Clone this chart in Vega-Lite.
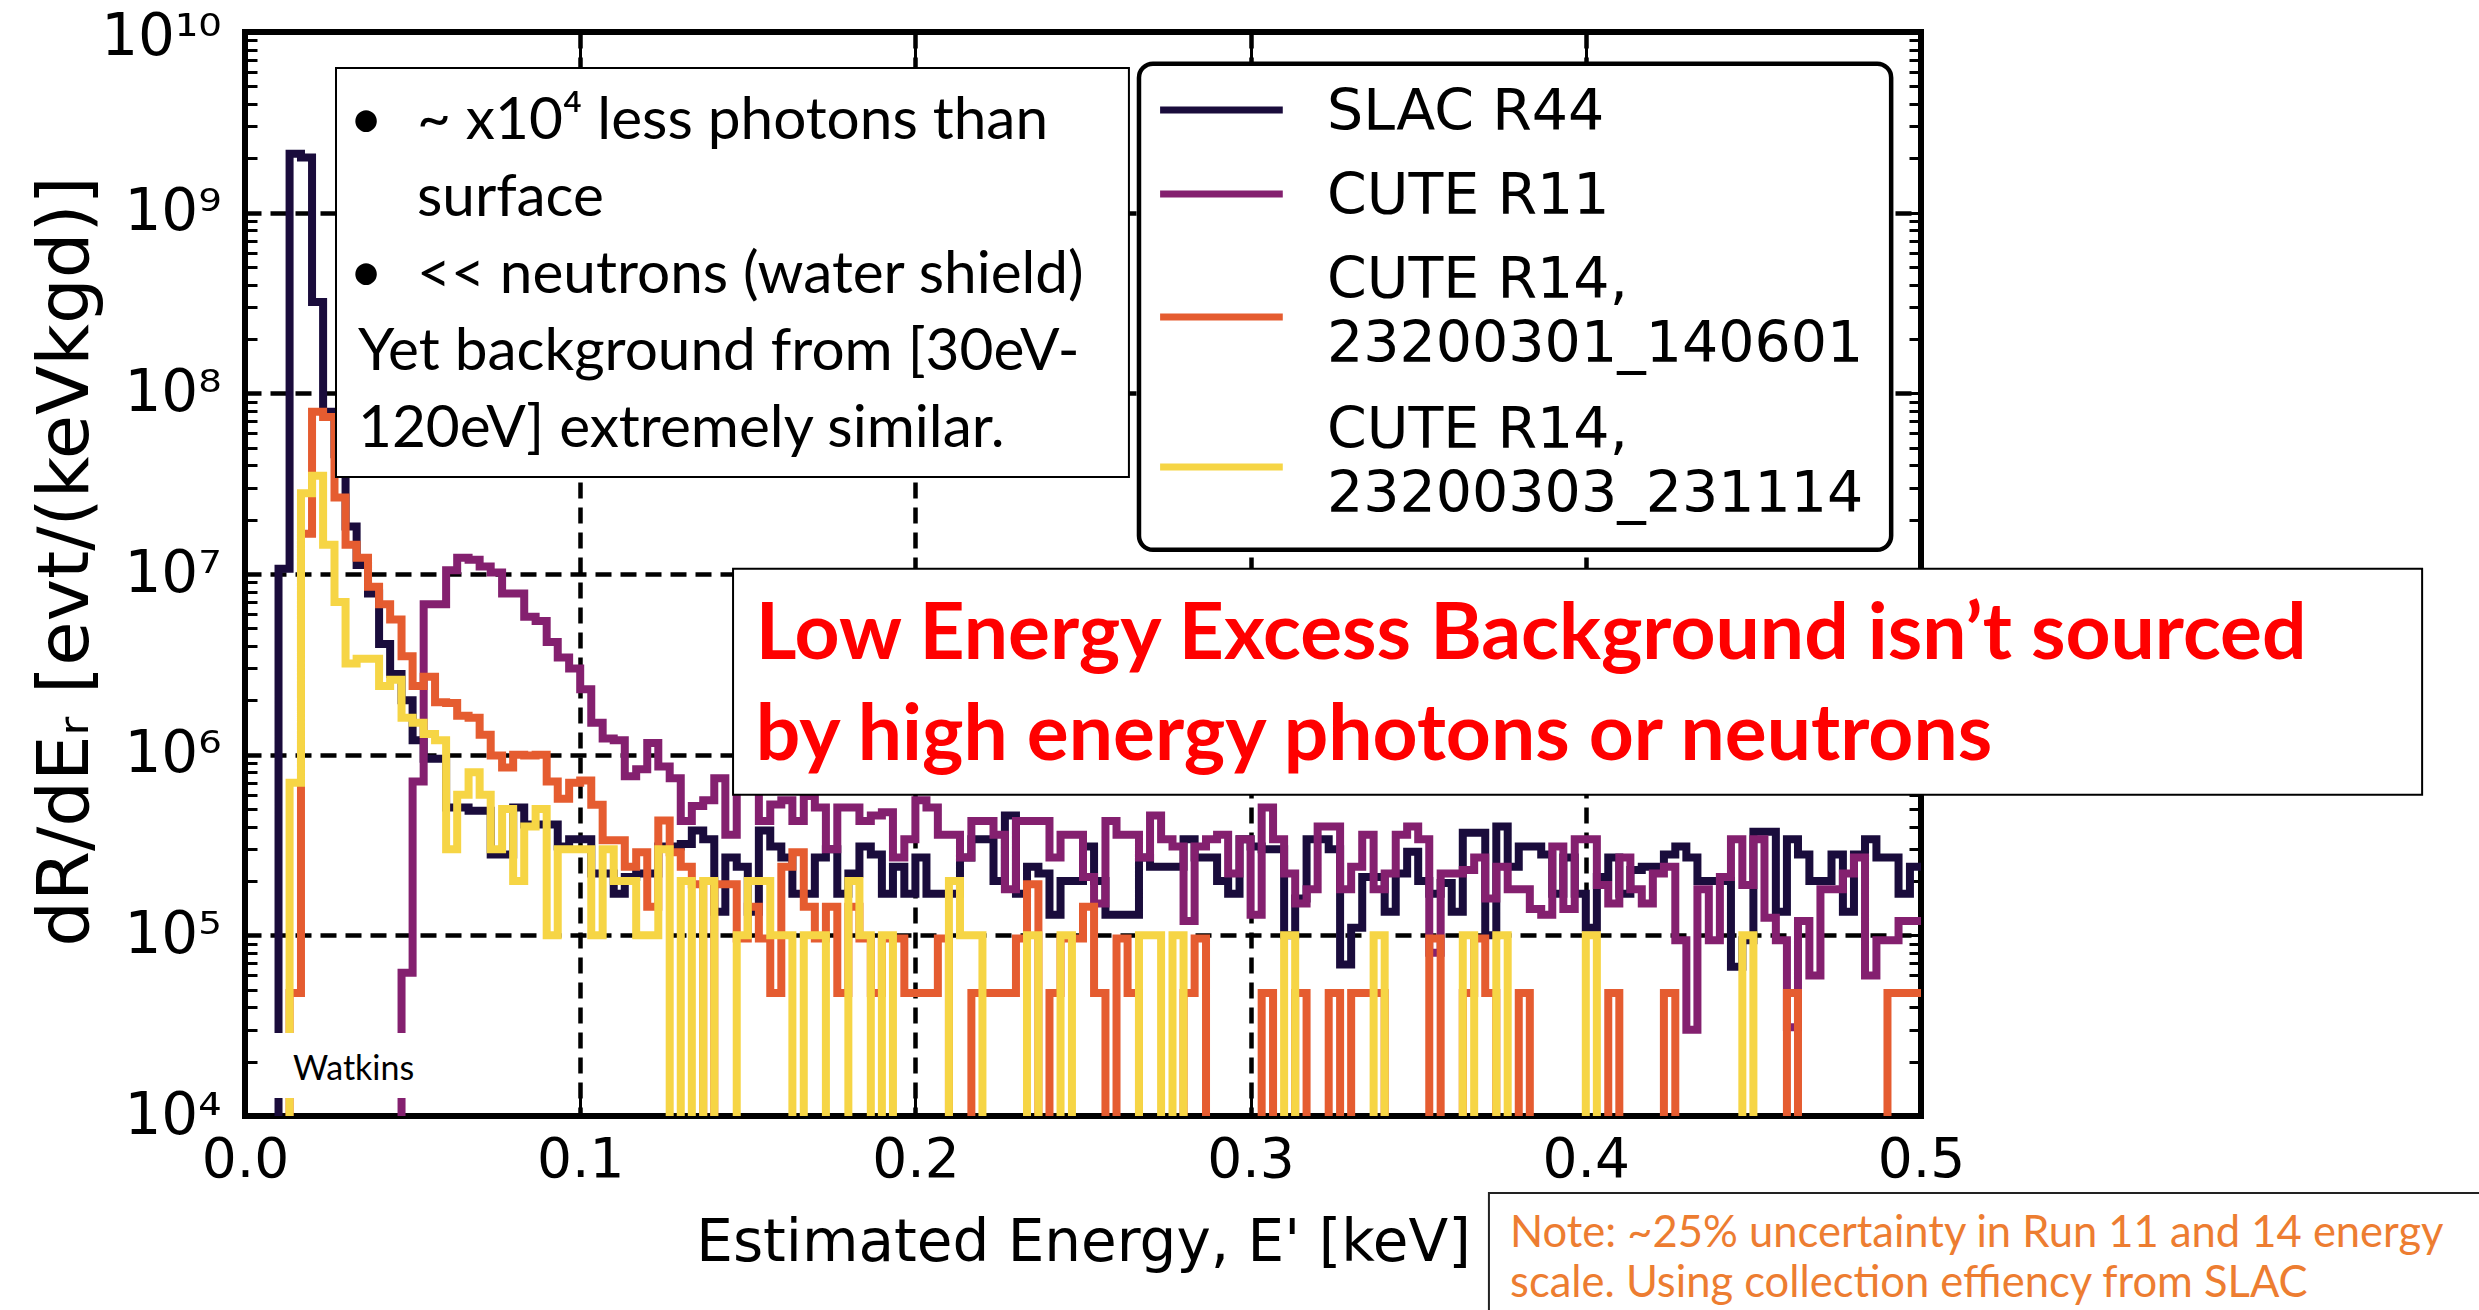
{
  "$schema": "https://vega.github.io/schema/vega-lite/v6.json",
  "width": 1676,
  "height": 1084,
  "autosize": {"type": "none"},
  "padding": {"left": 245, "top": 32, "right": 558, "bottom": 194},
  "background": "white",
  "config": {
    "view": {"stroke": "black", "strokeWidth": 6},
    "axis": {"labelFont": "DejaVu Sans", "titleFont": "DejaVu Sans", "labelColor": "black", "titleColor": "black", "titleFontWeight": "normal", "tickColor": "black", "zindex": 0}
  },
  "datasets": {
    "slac": [
      {"E":0,"r":1},{"E":0.0033,"r":1},{"E":0.0067,"r":1},{"E":0.01,"r":1.07e7},{"E":0.0133,"r":2.12e9},{"E":0.0167,"r":2.02e9},{"E":0.02,"r":3.2e8},{"E":0.0233,"r":7.9e7},{"E":0.0267,"r":4.6e7},{"E":0.03,"r":1.83e7},
      {"E":0.0333,"r":1.12e7},{"E":0.0367,"r":7.8e6},{"E":0.04,"r":4.1e6},{"E":0.0433,"r":2.8e6},{"E":0.0467,"r":2.0e6},{"E":0.05,"r":1.2e6},{"E":0.0533,"r":9.5e5},{"E":0.0567,"r":9.5e5},{"E":0.06,"r":5.1e5},{"E":0.0633,"r":5.1e5},
      {"E":0.0667,"r":4.9e5},{"E":0.07,"r":4.9e5},{"E":0.0733,"r":2.8e5},{"E":0.0767,"r":2.8e5},{"E":0.08,"r":5.1e5},{"E":0.0833,"r":4.1e5},{"E":0.0867,"r":4.1e5},{"E":0.09,"r":4.1e5},{"E":0.0933,"r":3.1e5},{"E":0.0967,"r":3.4e5},
      {"E":0.1,"r":3.4e5},{"E":0.1033,"r":2.2e5},{"E":0.1067,"r":2.2e5},{"E":0.11,"r":1.7e5},{"E":0.1133,"r":2.1e5},{"E":0.1167,"r":2.2e5},{"E":0.12,"r":2.2e5},{"E":0.1233,"r":3.1e5},{"E":0.1267,"r":3.1e5},{"E":0.13,"r":3.2e5},
      {"E":0.1333,"r":3.8e5},{"E":0.1367,"r":3.4e5},{"E":0.14,"r":1.35e5},{"E":0.1433,"r":2.7e5},{"E":0.1467,"r":2.4e5},{"E":0.15,"r":1.35e5},{"E":0.1533,"r":3.8e5},{"E":0.1567,"r":3.1e5},{"E":0.16,"r":2.7e5},{"E":0.1633,"r":1.7e5},
      {"E":0.1667,"r":1.7e5},{"E":0.17,"r":2.7e5},{"E":0.1733,"r":3.0e5},{"E":0.1767,"r":1.7e5},{"E":0.18,"r":2.2e5},{"E":0.1833,"r":3.1e5},{"E":0.1867,"r":2.8e5},{"E":0.19,"r":1.7e5},{"E":0.1933,"r":2.4e5},{"E":0.1967,"r":1.7e5},
      {"E":0.2,"r":2.7e5},{"E":0.2033,"r":1.7e5},{"E":0.2067,"r":1.7e5},{"E":0.21,"r":1.7e5},{"E":0.2133,"r":2.7e5},{"E":0.2167,"r":3.4e5},{"E":0.22,"r":3.4e5},{"E":0.2233,"r":2.0e5},{"E":0.2267,"r":4.6e5},{"E":0.23,"r":1.7e5},
      {"E":0.2333,"r":2.4e5},{"E":0.2367,"r":2.2e5},{"E":0.24,"r":1.3e5},{"E":0.2433,"r":2.0e5},{"E":0.2467,"r":2.0e5},{"E":0.25,"r":3.1e5},{"E":0.2533,"r":2.0e5},{"E":0.2567,"r":1.3e5},{"E":0.26,"r":1.3e5},{"E":0.2633,"r":1.3e5},
      {"E":0.2667,"r":2.7e5},{"E":0.27,"r":2.4e5},{"E":0.2733,"r":2.4e5},{"E":0.2767,"r":2.4e5},{"E":0.28,"r":3.4e5},{"E":0.2833,"r":2.7e5},{"E":0.2867,"r":2.7e5},{"E":0.29,"r":2.0e5},{"E":0.2933,"r":1.7e5},{"E":0.2967,"r":3.4e5},
      {"E":0.3,"r":3.1e5},{"E":0.3033,"r":3.0e5},{"E":0.3067,"r":3.0e5},{"E":0.31,"r":1.0e5},{"E":0.3133,"r":1.6e5},{"E":0.3167,"r":3.4e5},{"E":0.32,"r":3.4e5},{"E":0.3233,"r":3.0e5},{"E":0.3267,"r":6.9e4},{"E":0.33,"r":1.1e5},
      {"E":0.3333,"r":2.1e5},{"E":0.3367,"r":2.1e5},{"E":0.34,"r":1.35e5},{"E":0.3433,"r":2.2e5},{"E":0.3467,"r":2.9e5},{"E":0.35,"r":2.0e5},{"E":0.3533,"r":1.7e5},{"E":0.3567,"r":1.95e5},{"E":0.36,"r":1.35e5},{"E":0.3633,"r":3.7e5},
      {"E":0.3667,"r":3.7e5},{"E":0.37,"r":1.0e5},{"E":0.3733,"r":4.0e5},{"E":0.3767,"r":2.4e5},{"E":0.38,"r":3.1e5},{"E":0.3833,"r":3.1e5},{"E":0.3867,"r":2.8e5},{"E":0.39,"r":1.7e5},{"E":0.3933,"r":2.7e5},{"E":0.3967,"r":1.7e5},
      {"E":0.4,"r":1.1e5},{"E":0.4033,"r":2.1e5},{"E":0.4067,"r":2.7e5},{"E":0.41,"r":1.7e5},{"E":0.4133,"r":2.3e5},{"E":0.4167,"r":2.4e5},{"E":0.42,"r":2.4e5},{"E":0.4233,"r":2.8e5},{"E":0.4267,"r":3.1e5},{"E":0.43,"r":2.7e5},
      {"E":0.4333,"r":2.0e5},{"E":0.4367,"r":2.0e5},{"E":0.44,"r":2.0e5},{"E":0.4433,"r":6.7e4},{"E":0.4467,"r":9.4e4},{"E":0.45,"r":3.75e5},{"E":0.4533,"r":3.75e5},{"E":0.4567,"r":1.35e5},{"E":0.46,"r":3.4e5},{"E":0.4633,"r":2.8e5},
      {"E":0.4667,"r":2.0e5},{"E":0.47,"r":2.0e5},{"E":0.4733,"r":2.8e5},{"E":0.4767,"r":1.35e5},{"E":0.48,"r":2.8e5},{"E":0.4833,"r":3.4e5},{"E":0.4867,"r":2.7e5},{"E":0.49,"r":2.7e5},{"E":0.4933,"r":1.7e5},{"E":0.4967,"r":2.4e5},
      {"E":0.5,"r":2.4e5}
    ],
    "r11": [
      {"E":0,"r":1},{"E":0.0033,"r":1},{"E":0.0067,"r":1},{"E":0.01,"r":1},{"E":0.0133,"r":1},{"E":0.0167,"r":1},{"E":0.02,"r":1},{"E":0.0233,"r":1},{"E":0.0267,"r":1},{"E":0.03,"r":1},
      {"E":0.0333,"r":1},{"E":0.0367,"r":1},{"E":0.04,"r":1},{"E":0.0433,"r":1},{"E":0.0467,"r":6.2e4},{"E":0.05,"r":7.1e5},{"E":0.0533,"r":6.8e6},{"E":0.0567,"r":6.8e6},{"E":0.06,"r":1.05e7},{"E":0.0633,"r":1.23e7},
      {"E":0.0667,"r":1.2e7},{"E":0.07,"r":1.1e7},{"E":0.0733,"r":1.02e7},{"E":0.0767,"r":7.8e6},{"E":0.08,"r":7.8e6},{"E":0.0833,"r":5.8e6},{"E":0.0867,"r":5.5e6},{"E":0.09,"r":4.2e6},{"E":0.0933,"r":3.45e6},{"E":0.0967,"r":3.0e6},
      {"E":0.1,"r":2.3e6},{"E":0.1033,"r":1.5e6},{"E":0.1067,"r":1.23e6},{"E":0.11,"r":1.2e6},{"E":0.1133,"r":7.6e5},{"E":0.1167,"r":8.3e5},{"E":0.12,"r":1.16e6},{"E":0.1233,"r":8.6e5},{"E":0.1267,"r":7.4e5},{"E":0.13,"r":4.3e5},
      {"E":0.1333,"r":5.2e5},{"E":0.1367,"r":5.6e5},{"E":0.14,"r":7.4e5},{"E":0.1433,"r":3.6e5},{"E":0.1467,"r":7.0e5},{"E":0.15,"r":7.5e5},{"E":0.1533,"r":4.3e5},{"E":0.1567,"r":5.3e5},{"E":0.16,"r":5.6e5},{"E":0.1633,"r":4.3e5},
      {"E":0.1667,"r":5.9e5},{"E":0.17,"r":5.1e5},{"E":0.1733,"r":3.0e5},{"E":0.1767,"r":5.1e5},{"E":0.18,"r":5.1e5},{"E":0.1833,"r":4.3e5},{"E":0.1867,"r":4.6e5},{"E":0.19,"r":4.8e5},{"E":0.1933,"r":2.7e5},{"E":0.1967,"r":3.4e5},
      {"E":0.2,"r":5.6e5},{"E":0.2033,"r":5.1e5},{"E":0.2067,"r":3.6e5},{"E":0.21,"r":3.6e5},{"E":0.2133,"r":2.7e5},{"E":0.2167,"r":4.3e5},{"E":0.22,"r":4.3e5},{"E":0.2233,"r":3.6e5},{"E":0.2267,"r":1.8e5},{"E":0.23,"r":4.3e5},
      {"E":0.2333,"r":4.3e5},{"E":0.2367,"r":4.3e5},{"E":0.24,"r":2.7e5},{"E":0.2433,"r":3.6e5},{"E":0.2467,"r":3.6e5},{"E":0.25,"r":2.1e5},{"E":0.2533,"r":1.5e5},{"E":0.2567,"r":4.3e5},{"E":0.26,"r":3.6e5},{"E":0.2633,"r":3.6e5},
      {"E":0.2667,"r":2.7e5},{"E":0.27,"r":4.6e5},{"E":0.2733,"r":3.4e5},{"E":0.2767,"r":3.1e5},{"E":0.28,"r":1.2e5},{"E":0.2833,"r":3.1e5},{"E":0.2867,"r":3.4e5},{"E":0.29,"r":3.6e5},{"E":0.2933,"r":2.2e5},{"E":0.2967,"r":3.4e5},
      {"E":0.3,"r":1.3e5},{"E":0.3033,"r":5.1e5},{"E":0.3067,"r":3.4e5},{"E":0.31,"r":2.2e5},{"E":0.3133,"r":1.5e5},{"E":0.3167,"r":1.8e5},{"E":0.32,"r":4.0e5},{"E":0.3233,"r":4.0e5},{"E":0.3267,"r":1.8e5},{"E":0.33,"r":2.4e5},
      {"E":0.3333,"r":3.6e5},{"E":0.3367,"r":1.8e5},{"E":0.34,"r":2.2e5},{"E":0.3433,"r":3.6e5},{"E":0.3467,"r":4.0e5},{"E":0.35,"r":3.4e5},{"E":0.3533,"r":8.0e4},{"E":0.3567,"r":2.2e5},{"E":0.36,"r":2.2e5},{"E":0.3633,"r":2.3e5},
      {"E":0.3667,"r":2.7e5},{"E":0.37,"r":1.6e5},{"E":0.3733,"r":2.4e5},{"E":0.3767,"r":1.8e5},{"E":0.38,"r":1.8e5},{"E":0.3833,"r":1.4e5},{"E":0.3867,"r":1.3e5},{"E":0.39,"r":3.1e5},{"E":0.3933,"r":1.4e5},{"E":0.3967,"r":3.4e5},
      {"E":0.4,"r":3.4e5},{"E":0.4033,"r":1.9e5},{"E":0.4067,"r":1.5e5},{"E":0.41,"r":2.7e5},{"E":0.4133,"r":1.8e5},{"E":0.4167,"r":1.5e5},{"E":0.42,"r":2.2e5},{"E":0.4233,"r":2.4e5},{"E":0.4267,"r":9.4e4},{"E":0.43,"r":3.0e4},
      {"E":0.4333,"r":1.8e5},{"E":0.4367,"r":9.4e4},{"E":0.44,"r":2.1e5},{"E":0.4433,"r":3.4e5},{"E":0.4467,"r":1.9e5},{"E":0.45,"r":3.4e5},{"E":0.4533,"r":1.25e5},{"E":0.4567,"r":9.4e4},{"E":0.46,"r":3.1e4},{"E":0.4633,"r":1.2e5},
      {"E":0.4667,"r":6.0e4},{"E":0.47,"r":1.8e5},{"E":0.4733,"r":1.8e5},{"E":0.4767,"r":2.2e5},{"E":0.48,"r":2.7e5},{"E":0.4833,"r":6.0e4},{"E":0.4867,"r":9.4e4},{"E":0.49,"r":9.4e4},{"E":0.4933,"r":1.2e5},{"E":0.4967,"r":1.2e5},
      {"E":0.5,"r":1.2e5}
    ],
    "r14a": [
      {"E":0,"r":1},{"E":0.0033,"r":1},{"E":0.0067,"r":1},{"E":0.01,"r":1},{"E":0.0133,"r":4.8e4},{"E":0.0167,"r":1.67e7},{"E":0.02,"r":7.9e7},{"E":0.0233,"r":7.4e7},{"E":0.0267,"r":2.65e7},{"E":0.03,"r":1.45e7},
      {"E":0.0333,"r":1.23e7},{"E":0.0367,"r":8.5e6},{"E":0.04,"r":6.8e6},{"E":0.0433,"r":5.6e6},{"E":0.0467,"r":3.5e6},{"E":0.05,"r":2.4e6},{"E":0.0533,"r":2.7e6},{"E":0.0567,"r":1.95e6},{"E":0.06,"r":1.93e6},{"E":0.0633,"r":1.64e6},
      {"E":0.0667,"r":1.6e6},{"E":0.07,"r":1.29e6},{"E":0.0733,"r":9.9e5},{"E":0.0767,"r":8.5e5},{"E":0.08,"r":1.0e6},{"E":0.0833,"r":9.9e5},{"E":0.0867,"r":1.0e6},{"E":0.09,"r":7.1e5},{"E":0.0933,"r":5.7e5},{"E":0.0967,"r":7.0e5},
      {"E":0.1,"r":7.2e5},{"E":0.1033,"r":5.28e5},{"E":0.1067,"r":3.36e5},{"E":0.11,"r":3.36e5},{"E":0.1133,"r":2.4e5},{"E":0.1167,"r":2.88e5},{"E":0.12,"r":1.44e5},{"E":0.1233,"r":4.32e5},{"E":0.1267,"r":2.88e5},{"E":0.13,"r":2.4e5},
      {"E":0.1333,"r":1.92e5},{"E":0.1367,"r":1},{"E":0.14,"r":1.92e5},{"E":0.1433,"r":1.92e5},{"E":0.1467,"r":9.6e4},{"E":0.15,"r":1.44e5},{"E":0.1533,"r":9.6e4},{"E":0.1567,"r":4.8e4},{"E":0.16,"r":2.4e5},{"E":0.1633,"r":2.88e5},
      {"E":0.1667,"r":1.44e5},{"E":0.17,"r":9.6e4},{"E":0.1733,"r":1.44e5},{"E":0.1767,"r":4.8e4},{"E":0.18,"r":1.44e5},{"E":0.1833,"r":9.6e4},{"E":0.1867,"r":4.8e4},{"E":0.19,"r":9.6e4},{"E":0.1933,"r":9.6e4},{"E":0.1967,"r":4.8e4},
      {"E":0.2,"r":4.8e4},{"E":0.2033,"r":4.8e4},{"E":0.2067,"r":9.6e4},{"E":0.21,"r":1},{"E":0.2133,"r":1},{"E":0.2167,"r":4.8e4},{"E":0.22,"r":4.8e4},{"E":0.2233,"r":4.8e4},{"E":0.2267,"r":4.8e4},{"E":0.23,"r":9.6e4},
      {"E":0.2333,"r":1.92e5},{"E":0.2367,"r":1},{"E":0.24,"r":4.8e4},{"E":0.2433,"r":9.6e4},{"E":0.2467,"r":9.6e4},{"E":0.25,"r":1.44e5},{"E":0.2533,"r":4.8e4},{"E":0.2567,"r":1},{"E":0.26,"r":9.6e4},{"E":0.2633,"r":4.8e4},
      {"E":0.2667,"r":1},{"E":0.27,"r":1},{"E":0.2733,"r":1},{"E":0.2767,"r":1},{"E":0.28,"r":4.8e4},{"E":0.2833,"r":9.6e4},{"E":0.2867,"r":1},{"E":0.29,"r":1},{"E":0.2933,"r":1},{"E":0.2967,"r":1},
      {"E":0.3,"r":1},{"E":0.3033,"r":4.8e4},{"E":0.3067,"r":1},{"E":0.31,"r":1},{"E":0.3133,"r":4.8e4},{"E":0.3167,"r":1},{"E":0.32,"r":1},{"E":0.3233,"r":4.8e4},{"E":0.3267,"r":1},{"E":0.33,"r":4.8e4},
      {"E":0.3333,"r":4.8e4},{"E":0.3367,"r":4.8e4},{"E":0.34,"r":1},{"E":0.3433,"r":1},{"E":0.3467,"r":1},{"E":0.35,"r":1},{"E":0.3533,"r":9.6e4},{"E":0.3567,"r":1},{"E":0.36,"r":1},{"E":0.3633,"r":4.8e4},
      {"E":0.3667,"r":9.6e4},{"E":0.37,"r":4.8e4},{"E":0.3733,"r":1},{"E":0.3767,"r":1},{"E":0.38,"r":4.8e4},{"E":0.3833,"r":1},{"E":0.3867,"r":1},{"E":0.39,"r":1},{"E":0.3933,"r":1},{"E":0.3967,"r":1},
      {"E":0.4,"r":1},{"E":0.4033,"r":1},{"E":0.4067,"r":4.8e4},{"E":0.41,"r":1},{"E":0.4133,"r":1},{"E":0.4167,"r":1},{"E":0.42,"r":1},{"E":0.4233,"r":4.8e4},{"E":0.4267,"r":1},{"E":0.43,"r":1},
      {"E":0.4333,"r":1},{"E":0.4367,"r":1},{"E":0.44,"r":1},{"E":0.4433,"r":1},{"E":0.4467,"r":1},{"E":0.45,"r":1},{"E":0.4533,"r":1},{"E":0.4567,"r":1},{"E":0.46,"r":4.8e4},{"E":0.4633,"r":1},
      {"E":0.4667,"r":1},{"E":0.47,"r":1},{"E":0.4733,"r":1},{"E":0.4767,"r":1},{"E":0.48,"r":1},{"E":0.4833,"r":1},{"E":0.4867,"r":1},{"E":0.49,"r":4.8e4},{"E":0.4933,"r":4.8e4},{"E":0.4967,"r":4.8e4},
      {"E":0.5,"r":4.8e4}
    ],
    "r14b": [
      {"E":0,"r":1},{"E":0.0033,"r":1},{"E":0.0067,"r":1},{"E":0.01,"r":1},{"E":0.0133,"r":7e5},{"E":0.0167,"r":2.8e7},{"E":0.02,"r":3.5e7},{"E":0.0233,"r":1.45e7},{"E":0.0267,"r":7.0e6},{"E":0.03,"r":3.2e6},
      {"E":0.0333,"r":3.4e6},{"E":0.0367,"r":3.4e6},{"E":0.04,"r":2.4e6},{"E":0.0433,"r":2.6e6},{"E":0.0467,"r":1.6e6},{"E":0.05,"r":1.5e6},{"E":0.0533,"r":1.3e6},{"E":0.0567,"r":1.2e6},{"E":0.06,"r":3e5},{"E":0.0633,"r":6e5},
      {"E":0.0667,"r":8e5},{"E":0.07,"r":6e5},{"E":0.0733,"r":3e5},{"E":0.0767,"r":5e5},{"E":0.08,"r":2e5},{"E":0.0833,"r":4e5},{"E":0.0867,"r":5e5},{"E":0.09,"r":1e5},{"E":0.0933,"r":3e5},{"E":0.0967,"r":3e5},
      {"E":0.1,"r":3e5},{"E":0.1033,"r":1e5},{"E":0.1067,"r":3e5},{"E":0.11,"r":2e5},{"E":0.1133,"r":2e5},{"E":0.1167,"r":1e5},{"E":0.12,"r":1e5},{"E":0.1233,"r":3e5},{"E":0.1267,"r":1},{"E":0.13,"r":2e5},
      {"E":0.1333,"r":1},{"E":0.1367,"r":2e5},{"E":0.14,"r":1},{"E":0.1433,"r":1},{"E":0.1467,"r":1e5},{"E":0.15,"r":2e5},{"E":0.1533,"r":2e5},{"E":0.1567,"r":1e5},{"E":0.16,"r":1e5},{"E":0.1633,"r":1},
      {"E":0.1667,"r":1e5},{"E":0.17,"r":1e5},{"E":0.1733,"r":1},{"E":0.1767,"r":1},{"E":0.18,"r":2e5},{"E":0.1833,"r":1e5},{"E":0.1867,"r":1},{"E":0.19,"r":1e5},{"E":0.1933,"r":1},{"E":0.1967,"r":1},
      {"E":0.2,"r":1},{"E":0.2033,"r":1},{"E":0.2067,"r":1},{"E":0.21,"r":2e5},{"E":0.2133,"r":1e5},{"E":0.2167,"r":1e5},{"E":0.22,"r":1},{"E":0.2233,"r":1},{"E":0.2267,"r":1},{"E":0.23,"r":1},
      {"E":0.2333,"r":1e5},{"E":0.2367,"r":1},{"E":0.24,"r":1},{"E":0.2433,"r":1e5},{"E":0.2467,"r":1},{"E":0.25,"r":1},{"E":0.2533,"r":1},{"E":0.2567,"r":1},{"E":0.26,"r":1},{"E":0.2633,"r":1},
      {"E":0.2667,"r":1e5},{"E":0.27,"r":1e5},{"E":0.2733,"r":1},{"E":0.2767,"r":1e5},{"E":0.28,"r":1},{"E":0.2833,"r":1},{"E":0.2867,"r":1},{"E":0.29,"r":1},{"E":0.2933,"r":1},{"E":0.2967,"r":1},
      {"E":0.3,"r":1},{"E":0.3033,"r":1},{"E":0.3067,"r":1},{"E":0.31,"r":1e5},{"E":0.3133,"r":1},{"E":0.3167,"r":1},{"E":0.32,"r":1},{"E":0.3233,"r":1},{"E":0.3267,"r":1},{"E":0.33,"r":1},
      {"E":0.3333,"r":1},{"E":0.3367,"r":1e5},{"E":0.34,"r":1},{"E":0.3433,"r":1},{"E":0.3467,"r":1},{"E":0.35,"r":1},{"E":0.3533,"r":1},{"E":0.3567,"r":1},{"E":0.36,"r":1},{"E":0.3633,"r":1e5},
      {"E":0.3667,"r":1},{"E":0.37,"r":1},{"E":0.3733,"r":1e5},{"E":0.3767,"r":1},{"E":0.38,"r":1},{"E":0.3833,"r":1},{"E":0.3867,"r":1},{"E":0.39,"r":1},{"E":0.3933,"r":1},{"E":0.3967,"r":1},
      {"E":0.4,"r":1e5},{"E":0.4033,"r":1},{"E":0.4067,"r":1},{"E":0.41,"r":1},{"E":0.4133,"r":1},{"E":0.4167,"r":1},{"E":0.42,"r":1},{"E":0.4233,"r":1},{"E":0.4267,"r":1},{"E":0.43,"r":1},
      {"E":0.4333,"r":1},{"E":0.4367,"r":1},{"E":0.44,"r":1},{"E":0.4433,"r":1},{"E":0.4467,"r":1e5},{"E":0.45,"r":1},{"E":0.4533,"r":1},{"E":0.4567,"r":1},{"E":0.46,"r":1},{"E":0.4633,"r":1},
      {"E":0.4667,"r":1},{"E":0.47,"r":1},{"E":0.4733,"r":1},{"E":0.4767,"r":1},{"E":0.48,"r":1},{"E":0.4833,"r":1},{"E":0.4867,"r":1},{"E":0.49,"r":1},{"E":0.4933,"r":1},{"E":0.4967,"r":1},
      {"E":0.5,"r":1}
    ]
  },
  "layer": [
    {
      "encoding": {
        "x": {
          "field": "E", "type": "quantitative",
          "scale": {"domain": [0, 0.5], "nice": false, "zero": false},
          "axis": {
            "orient": "bottom", "values": [0, 0.1, 0.2, 0.3, 0.4, 0.5], "format": ".1f",
            "labelFlush": false, "labelOverlap": false, "labelFontSize": 55, "labelPadding": 47,
            "tickSize": -30, "tickWidth": 3, "domain": false,
            "grid": true, "gridColor": "black", "gridDash": [16, 9], "gridWidth": 4.5,
            "title": "Estimated Energy, E' [keV]", "titleFontSize": 58,
            "titleX": 838, "titleY": 144, "titleAlign": "center", "titleBaseline": "alphabetic"
          }
        },
        "y": {
          "field": "r", "type": "quantitative",
          "scale": {"type": "log", "domain": [10000, 10000000000], "nice": false},
          "axis": {
            "orient": "left",
            "values": [10000, 20000, 30000, 40000, 50000, 60000, 70000, 80000, 90000, 100000, 200000, 300000, 400000, 500000, 600000, 700000, 800000, 900000, 1000000, 2000000, 3000000, 4000000, 5000000, 6000000, 7000000, 8000000, 9000000, 10000000, 20000000, 30000000, 40000000, 50000000, 60000000, 70000000, 80000000, 90000000, 100000000, 200000000, 300000000, 400000000, 500000000, 600000000, 700000000, 800000000, 900000000, 1000000000, 2000000000, 3000000000, 4000000000, 5000000000, 6000000000, 7000000000, 8000000000, 9000000000, 10000000000],
            "labelExpr": "datum.value == 10000 ? '10⁴' : datum.value == 100000 ? '10⁵' : datum.value == 1000000 ? '10⁶' : datum.value == 10000000 ? '10⁷' : datum.value == 100000000 ? '10⁸' : datum.value == 1000000000 ? '10⁹' : datum.value == 10000000000 ? '10¹⁰' : ''",
            "labelOverlap": false, "labelFontSize": 58, "labelPadding": 36,
            "labelOffset": {"condition": {"test": "datum.value == 10000000000", "value": 5}, "value": 0},
            "tickSize": -12, "tickWidth": 3, "domain": false,
            "grid": true, "gridColor": "black", "gridDash": [16, 9], "gridWidth": 4.5,
            "gridOpacity": {"condition": {"test": "indexof([10000,100000,1000000,10000000,100000000,1000000000,10000000000], datum.value) >= 0", "value": 1}, "value": 0},
            "title": "dR/dEᵣ [evt/(keVkgd)]", "titleFontSize": 72,
            "titleX": -180, "titleY": 529, "titleAlign": "center", "titleBaseline": "middle", "titleAngle": 270
          }
        }
      },
      "layer": [
        {"data": {"name": "slac"}, "mark": {"type": "line", "interpolate": "step-after", "clip": true, "color": "#1a0c3c", "strokeWidth": 8}},
        {"data": {"name": "r11"}, "mark": {"type": "line", "interpolate": "step-after", "clip": true, "color": "#84206f", "strokeWidth": 8}},
        {"data": {"name": "r14a"}, "mark": {"type": "line", "interpolate": "step-after", "clip": true, "color": "#e55c30", "strokeWidth": 8}},
        {"data": {"name": "r14b"}, "mark": {"type": "line", "interpolate": "step-after", "clip": true, "color": "#f6d545", "strokeWidth": 8}}
      ]
    },
    {
      "data": {"values": [{}]},
      "layer": [
        {
          "mark": {"type": "rect", "fill": "white", "strokeWidth": 0},
          "encoding": {
            "x": {"datum": 0.006, "type": "quantitative", "scale": {"domain": [0, 0.5], "nice": false, "zero": false}, "axis": null},
            "x2": {"datum": 0.053},
            "y": {"datum": 28800, "type": "quantitative", "scale": {"type": "log", "domain": [10000, 10000000000], "nice": false}, "axis": null},
            "y2": {"datum": 12560}
          }
        },
        {
          "mark": {"type": "text", "text": "Watkins", "font": "Lato", "fontSize": 34, "align": "left", "baseline": "alphabetic", "color": "black"},
          "encoding": {
            "x": {"datum": 0.0143, "type": "quantitative", "scale": {"domain": [0, 0.5], "nice": false, "zero": false}, "axis": null},
            "y": {"datum": 15850, "type": "quantitative", "scale": {"type": "log", "domain": [10000, 10000000000], "nice": false}, "axis": null}
          }
        },
        {
          "mark": {"type": "rect", "fill": "white", "stroke": "black", "strokeWidth": 2},
          "encoding": {
            "x": {"datum": 0.02715, "type": "quantitative", "scale": {"domain": [0, 0.5], "nice": false, "zero": false}, "axis": null},
            "x2": {"datum": 0.2637},
            "y": {"datum": 6320000000, "type": "quantitative", "scale": {"type": "log", "domain": [10000, 10000000000], "nice": false}, "axis": null},
            "y2": {"datum": 34400000}
          }
        },
        {
          "mark": {"type": "text", "text": "•", "font": "Lato", "fontSize": 58, "align": "center", "baseline": "alphabetic", "color": "black"},
          "encoding": {
            "x": {"datum": 0.0361, "type": "quantitative", "scale": {"domain": [0, 0.5], "nice": false, "zero": false}, "axis": null},
            "y": {"datum": 2557000000, "type": "quantitative", "scale": {"type": "log", "domain": [10000, 10000000000], "nice": false}, "axis": null}
          }
        },
        {
          "mark": {"type": "text", "text": "•", "font": "Lato", "fontSize": 58, "align": "center", "baseline": "alphabetic", "color": "black"},
          "encoding": {
            "x": {"datum": 0.0361, "type": "quantitative", "scale": {"domain": [0, 0.5], "nice": false, "zero": false}, "axis": null},
            "y": {"datum": 364000000, "type": "quantitative", "scale": {"type": "log", "domain": [10000, 10000000000], "nice": false}, "axis": null}
          }
        },
        {
          "mark": {"type": "text", "text": ["~ x10⁴ less photons than", "surface", "<< neutrons (water shield)"], "font": "Lato", "fontSize": 58.5, "lineHeight": 77, "align": "left", "baseline": "alphabetic", "color": "black"},
          "encoding": {
            "x": {"datum": 0.0513, "type": "quantitative", "scale": {"domain": [0, 0.5], "nice": false, "zero": false}, "axis": null},
            "y": {"datum": 2557000000, "type": "quantitative", "scale": {"type": "log", "domain": [10000, 10000000000], "nice": false}, "axis": null}
          }
        },
        {
          "mark": {"type": "text", "text": ["Yet background from [30eV-", "120eV] extremely similar."], "font": "Lato", "fontSize": 58.5, "lineHeight": 77, "align": "left", "baseline": "alphabetic", "color": "black"},
          "encoding": {
            "x": {"datum": 0.0337, "type": "quantitative", "scale": {"domain": [0, 0.5], "nice": false, "zero": false}, "axis": null},
            "y": {"datum": 134500000, "type": "quantitative", "scale": {"type": "log", "domain": [10000, 10000000000], "nice": false}, "axis": null}
          }
        },
        {
          "mark": {"type": "rect", "fill": "white", "stroke": "black", "strokeWidth": 4.5, "cornerRadius": 14},
          "encoding": {
            "x": {"datum": 0.2667, "type": "quantitative", "scale": {"domain": [0, 0.5], "nice": false, "zero": false}, "axis": null},
            "x2": {"datum": 0.4911},
            "y": {"datum": 6680000000, "type": "quantitative", "scale": {"type": "log", "domain": [10000, 10000000000], "nice": false}, "axis": null},
            "y2": {"datum": 13600000}
          }
        },
        {
          "mark": {"type": "rule", "color": "#1a0c3c", "strokeWidth": 7},
          "encoding": {
            "x": {"datum": 0.273, "type": "quantitative", "scale": {"domain": [0, 0.5], "nice": false, "zero": false}, "axis": null},
            "x2": {"datum": 0.3096},
            "y": {"datum": 3701000000, "type": "quantitative", "scale": {"type": "log", "domain": [10000, 10000000000], "nice": false}, "axis": null}
          }
        },
        {
          "mark": {"type": "rule", "color": "#84206f", "strokeWidth": 7},
          "encoding": {
            "x": {"datum": 0.273, "type": "quantitative", "scale": {"domain": [0, 0.5], "nice": false, "zero": false}, "axis": null},
            "x2": {"datum": 0.3096},
            "y": {"datum": 1269000000, "type": "quantitative", "scale": {"type": "log", "domain": [10000, 10000000000], "nice": false}, "axis": null}
          }
        },
        {
          "mark": {"type": "rule", "color": "#e55c30", "strokeWidth": 7},
          "encoding": {
            "x": {"datum": 0.273, "type": "quantitative", "scale": {"domain": [0, 0.5], "nice": false, "zero": false}, "axis": null},
            "x2": {"datum": 0.3096},
            "y": {"datum": 264600000, "type": "quantitative", "scale": {"type": "log", "domain": [10000, 10000000000], "nice": false}, "axis": null}
          }
        },
        {
          "mark": {"type": "rule", "color": "#f6d545", "strokeWidth": 7},
          "encoding": {
            "x": {"datum": 0.273, "type": "quantitative", "scale": {"domain": [0, 0.5], "nice": false, "zero": false}, "axis": null},
            "x2": {"datum": 0.3096},
            "y": {"datum": 39120000, "type": "quantitative", "scale": {"type": "log", "domain": [10000, 10000000000], "nice": false}, "axis": null}
          }
        },
        {
          "mark": {"type": "text", "text": "SLAC R44", "font": "DejaVu Sans", "fontSize": 57, "align": "left", "baseline": "alphabetic", "color": "black"},
          "encoding": {
            "x": {"datum": 0.3228, "type": "quantitative", "scale": {"domain": [0, 0.5], "nice": false, "zero": false}, "axis": null},
            "y": {"datum": 2868000000, "type": "quantitative", "scale": {"type": "log", "domain": [10000, 10000000000], "nice": false}, "axis": null}
          }
        },
        {
          "mark": {"type": "text", "text": "CUTE R11", "font": "DejaVu Sans", "fontSize": 57, "align": "left", "baseline": "alphabetic", "color": "black"},
          "encoding": {
            "x": {"datum": 0.3228, "type": "quantitative", "scale": {"domain": [0, 0.5], "nice": false, "zero": false}, "axis": null},
            "y": {"datum": 983000000, "type": "quantitative", "scale": {"type": "log", "domain": [10000, 10000000000], "nice": false}, "axis": null}
          }
        },
        {
          "mark": {"type": "text", "text": ["CUTE R14,", "23200301_140601"], "font": "DejaVu Sans", "fontSize": 57, "lineHeight": 64.5, "align": "left", "baseline": "alphabetic", "color": "black"},
          "encoding": {
            "x": {"datum": 0.3228, "type": "quantitative", "scale": {"domain": [0, 0.5], "nice": false, "zero": false}, "axis": null},
            "y": {"datum": 337100000, "type": "quantitative", "scale": {"type": "log", "domain": [10000, 10000000000], "nice": false}, "axis": null}
          }
        },
        {
          "mark": {"type": "text", "text": ["CUTE R14,", "23200303_231114"], "font": "DejaVu Sans", "fontSize": 57, "lineHeight": 64.5, "align": "left", "baseline": "alphabetic", "color": "black"},
          "encoding": {
            "x": {"datum": 0.3228, "type": "quantitative", "scale": {"domain": [0, 0.5], "nice": false, "zero": false}, "axis": null},
            "y": {"datum": 49830000, "type": "quantitative", "scale": {"type": "log", "domain": [10000, 10000000000], "nice": false}, "axis": null}
          }
        },
        {
          "mark": {"type": "rect", "fill": "white", "stroke": "black", "strokeWidth": 2},
          "encoding": {
            "x": {"datum": 0.1456, "type": "quantitative", "scale": {"domain": [0, 0.5], "nice": false, "zero": false}, "axis": null},
            "x2": {"datum": 0.6495},
            "y": {"datum": 10700000, "type": "quantitative", "scale": {"type": "log", "domain": [10000, 10000000000], "nice": false}, "axis": null},
            "y2": {"datum": 600000}
          }
        },
        {
          "mark": {"type": "text", "text": ["Low Energy Excess Background isn’t sourced", "by high energy photons or neutrons"], "font": "Lato", "fontWeight": "bold", "fontSize": 78.5, "lineHeight": 101, "align": "left", "baseline": "alphabetic", "color": "#ff0000"},
          "encoding": {
            "x": {"datum": 0.1524, "type": "quantitative", "scale": {"domain": [0, 0.5], "nice": false, "zero": false}, "axis": null},
            "y": {"datum": 3400000, "type": "quantitative", "scale": {"type": "log", "domain": [10000, 10000000000], "nice": false}, "axis": null}
          }
        },
        {
          "mark": {"type": "rect", "fill": "white", "stroke": "#222222", "strokeWidth": 2},
          "encoding": {
            "x": {"datum": 0.3711, "type": "quantitative", "scale": {"domain": [0, 0.5], "nice": false, "zero": false}, "axis": null},
            "x2": {"datum": 0.72},
            "y": {"datum": 3750, "type": "quantitative", "scale": {"type": "log", "domain": [10000, 10000000000], "nice": false}, "axis": null},
            "y2": {"datum": 100}
          }
        },
        {
          "mark": {"type": "text", "text": ["Note: ~25% uncertainty in Run 11 and 14 energy", "scale. Using collection effiency from SLAC"], "font": "Lato", "fontSize": 43.5, "lineHeight": 50, "align": "left", "baseline": "alphabetic", "color": "#ed7d31"},
          "encoding": {
            "x": {"datum": 0.3774, "type": "quantitative", "scale": {"domain": [0, 0.5], "nice": false, "zero": false}, "axis": null},
            "y": {"datum": 1884, "type": "quantitative", "scale": {"type": "log", "domain": [10000, 10000000000], "nice": false}, "axis": null}
          }
        }
      ]
    },
    {
      "data": {"name": "slac"},
      "mark": {"type": "point", "opacity": 0},
      "encoding": {
        "x": {
          "field": "E", "type": "quantitative",
          "scale": {"domain": [0, 0.5], "nice": false, "zero": false},
          "axis": {"orient": "top", "values": [0.1, 0.2, 0.3, 0.4], "labels": false, "tickSize": -30, "tickWidth": 3, "domain": false, "grid": false, "title": null}
        },
        "y": {
          "field": "r", "type": "quantitative",
          "scale": {"type": "log", "domain": [10000, 10000000000], "nice": false},
          "axis": {
            "orient": "right",
            "values": [10000, 20000, 30000, 40000, 50000, 60000, 70000, 80000, 90000, 100000, 200000, 300000, 400000, 500000, 600000, 700000, 800000, 900000, 1000000, 2000000, 3000000, 4000000, 5000000, 6000000, 7000000, 8000000, 9000000, 10000000, 20000000, 30000000, 40000000, 50000000, 60000000, 70000000, 80000000, 90000000, 100000000, 200000000, 300000000, 400000000, 500000000, 600000000, 700000000, 800000000, 900000000, 1000000000, 2000000000, 3000000000, 4000000000, 5000000000, 6000000000, 7000000000, 8000000000, 9000000000, 10000000000],
            "labels": false, "tickSize": -12, "tickWidth": 3, "domain": false, "grid": false, "title": null
          }
        }
      }
    }
  ],
  "resolve": {"axis": {"x": "independent", "y": "independent"}}
}
